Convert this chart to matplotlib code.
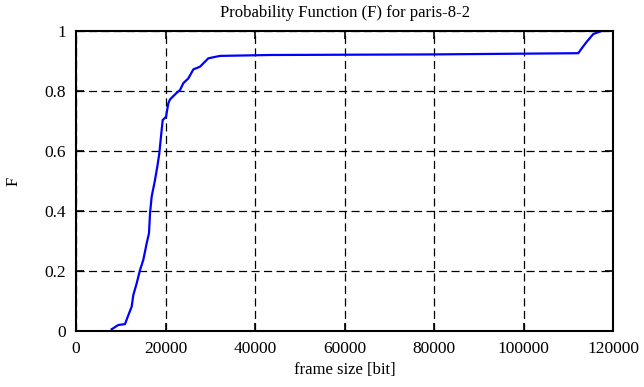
import matplotlib
matplotlib.use("Agg")
import matplotlib.pyplot as plt
from matplotlib.ticker import FuncFormatter

# CDF of frame sizes
frame_size = [7980, 9460, 10950, 11700, 12440, 12810, 13560, 14300, 15040,
              15790, 16310, 16540, 16910, 17650, 18170, 18620, 18990, 19370,
              20110, 20630, 21010, 22500, 23240, 23980, 25100, 26220, 27710,
              29570, 32180, 43350, 80000, 112250, 113000, 114120, 115600, 117480]
prob = [0.006, 0.02, 0.023, 0.053, 0.081, 0.12, 0.159, 0.203, 0.237,
        0.292, 0.326, 0.392, 0.448, 0.503, 0.548, 0.592, 0.648, 0.703,
        0.714, 0.759, 0.772, 0.794, 0.803, 0.826, 0.842, 0.872, 0.881,
        0.909, 0.917, 0.92, 0.922, 0.926, 0.942, 0.964, 0.99, 1.0]

plt.rcParams['font.family'] = ['Liberation Serif', 'DejaVu Serif']

fig = plt.figure(figsize=(6.44, 3.87), dpi=100)
ax = fig.add_axes([76 / 644, 1 - 331 / 387, (613 - 76) / 644, (331 - 31) / 387])

ax.plot(frame_size, prob, color='#0000ff', lw=1.6)

ax.set_xlim(0, 120000)
ax.set_ylim(0, 1)
ax.set_xticks(range(0, 120001, 20000))
ax.set_yticks([0, 0.2, 0.4, 0.6, 0.8, 1.0])
ax.yaxis.set_major_formatter(FuncFormatter(lambda v, p: f"{v:g}"))
ax.grid(True, color='black', linestyle=(0, (6.5, 3.5)), lw=0.9)
ax.tick_params(direction='in', length=6, width=1.2, top=True, right=True,
               labelsize=12.5, pad=7)
for s in ax.spines.values():
    s.set_linewidth(1.5)

ax.set_title('Probability Function (F) for paris-8-2', fontsize=12, pad=10)
ax.set_xlabel('frame size [bit]', fontsize=12, labelpad=4)
ax.set_ylabel('F', fontsize=12, labelpad=17)

fig.savefig('out.png', dpi=100)
